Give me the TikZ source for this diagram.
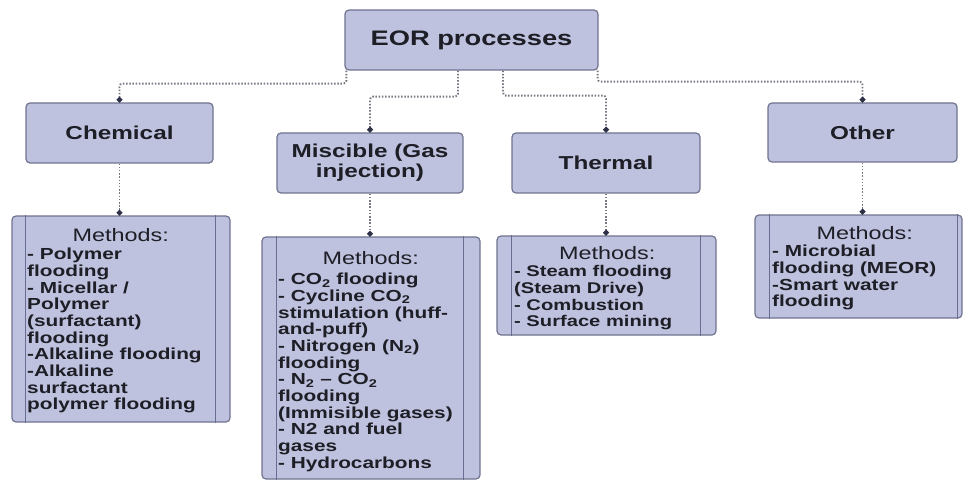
\documentclass[tikz,border=0pt]{standalone}
\usepackage{fontspec}
\setmainfont{Liberation Sans}[FakeStretch=1.3]
\usetikzlibrary{arrows.meta}
\definecolor{boxfill}{RGB}{191,194,223}
\definecolor{boxdraw}{RGB}{112,115,142}
\definecolor{innerln}{RGB}{105,109,145}
\definecolor{conncol}{RGB}{120,120,130}
\definecolor{dotcol}{RGB}{45,48,70}
\definecolor{txt}{RGB}{30,30,38}
\newcommand\subtwo{\textsubscript{2}}
\begin{document}
\begin{tikzpicture}[x=1pt,y=-1pt,
  box/.style={draw=boxdraw, fill=boxfill, line width=1.2pt, rounded corners=4pt,
    inner sep=0pt, align=center, text=txt},
  eorbox/.style={box, font=\fontsize{21}{24}\selectfont\bfseries},
  catbox/.style={box, font=\fontsize{18.7}{20}\selectfont\bfseries},
  methbox/.style={box},
  innerline/.style={draw=innerln, line width=1.2pt},
  conn/.style={draw=conncol, line width=1.9pt, dash pattern=on 1.5pt off 1.7pt,
    rounded corners=3pt, -{Circle[length=5.5pt,color=dotcol,fill=dotcol]}},
  methtext/.style={inner sep=0pt, anchor=north west, text=txt}
]
\useasboundingbox (0,0) rectangle (963,481);

% top node
\node[eorbox, minimum width=253pt, minimum height=60pt] (eor) at (471.5,40) {EOR processes};

% categories
\node[catbox, minimum width=187pt, minimum height=60pt] (chem) at (119.5,133) {Chemical};
\node[catbox, minimum width=186pt, minimum height=60pt] (misc) at (370,163) {Miscible (Gas\\injection)};
\node[catbox, minimum width=188pt, minimum height=60pt] (therm) at (606,163) {Thermal};
\node[catbox, minimum width=189pt, minimum height=59pt] (other) at (862.5,132.5) {Other};

% method boxes
\node[methbox, minimum width=218pt, minimum height=206pt] (m1) at (121,319) {};
\node[methbox, minimum width=218pt, minimum height=242pt] (m2) at (371,358) {};
\node[methbox, minimum width=219pt, minimum height=99pt] (m3) at (606.5,285.5) {};
\node[methbox, minimum width=207pt, minimum height=103pt] (m4) at (858.5,266.5) {};

% inner vertical lines
\draw[innerline] ([xshift=14pt]m1.north west) -- ([xshift=14pt]m1.south west);
\draw[innerline] ([xshift=-15pt]m1.north east) -- ([xshift=-15pt]m1.south east);
\draw[innerline] ([xshift=15pt]m2.north west) -- ([xshift=15pt]m2.south west);
\draw[innerline] ([xshift=-17pt]m2.north east) -- ([xshift=-17pt]m2.south east);
\draw[innerline] ([xshift=15pt]m3.north west) -- ([xshift=15pt]m3.south west);
\draw[innerline] ([xshift=-16pt]m3.north east) -- ([xshift=-16pt]m3.south east);
\draw[innerline] ([xshift=15pt]m4.north west) -- ([xshift=15pt]m4.south west);
\draw[innerline] ([xshift=-5pt]m4.north east) -- ([xshift=-5pt]m4.south east);

% method texts
\node[methtext] (t1) at (27,227.4) {\parbox[t]{187pt}{\centering\fontsize{18}{20}\selectfont\rule{0pt}{14pt}Methods:\par
\vspace{1.3pt}\raggedright\fontsize{16}{16.7}\selectfont\bfseries
- Polymer\\
flooding\\
- Micellar /\\
Polymer\\
(surfactant)\\
flooding\\
-Alkaline flooding\\
-Alkaline\\
surfactant\\
polymer flooding}};

\node[methtext] (t2) at (278,250.4) {\parbox[t]{185pt}{\centering\fontsize{18}{20}\selectfont\rule{0pt}{14pt}Methods:\par
\vspace{3.3pt}\raggedright\fontsize{16}{16.7}\selectfont\bfseries
- CO\subtwo{} flooding\\
- Cycline CO\subtwo\\
stimulation (huff-\\
and-puff)\\
- Nitrogen (N\subtwo)\\
flooding\\
- N\subtwo{} -- CO\subtwo\\
flooding\\
(Immisible gases)\\
- N2 and fuel\\
gases\\
- Hydrocarbons}};

\node[methtext] (t3) at (514,245.4) {\parbox[t]{186pt}{\centering\fontsize{18}{20}\selectfont\rule{0pt}{14pt}Methods:\par
\vspace{0.3pt}\raggedright\fontsize{15.5}{16.7}\selectfont\bfseries
- Steam flooding\\
(Steam Drive)\\
- Combustion\\
- Surface mining}};

\node[methtext] (t4) at (772,225.4) {\parbox[t]{185pt}{\centering\fontsize{18}{20}\selectfont\rule{0pt}{14pt}Methods:\par
\vspace{0.3pt}\raggedright\fontsize{16}{16.7}\selectfont\bfseries
- Microbial\\
flooding (MEOR)\\
-Smart water\\
flooding}};

% connectors
\draw[conn] ([xshift=2pt]eor.south west) -- ++(0,13) -| (chem.north);
\draw[conn] ([xshift=-13.5pt]eor.south) -- ++(0,26) -| (misc.north);
\draw[conn] ([xshift=31.5pt]eor.south) -- ++(0,25) -| (therm.north);
\draw[conn] ([xshift=-1pt]eor.south east) -- ++(0,11) -| (other.north);
\draw[conn] (chem.south) -- (chem.south |- m1.north);
\draw[conn] (misc.south) -- (misc.south |- m2.north);
\draw[conn] (therm.south) -- (therm.south |- m3.north);
\draw[conn] (other.south) -- (other.south |- m4.north);
\end{tikzpicture}
\end{document}
